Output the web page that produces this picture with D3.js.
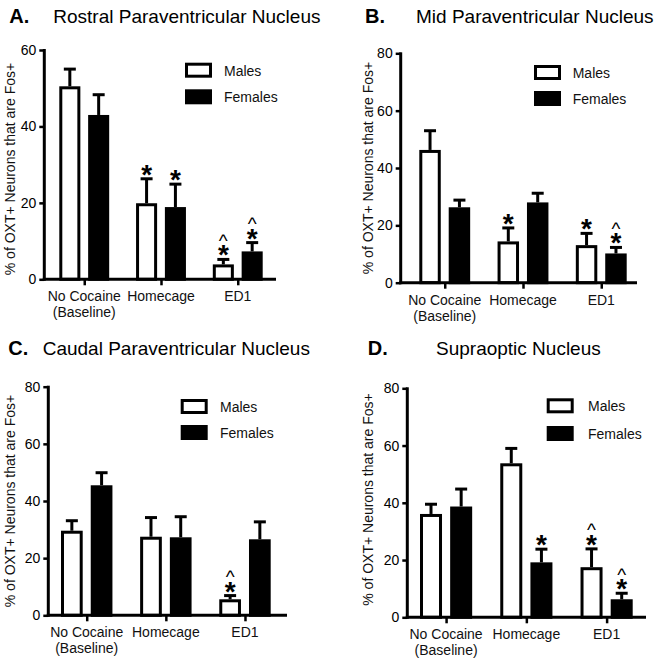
<!DOCTYPE html>
<html>
<head>
<meta charset="utf-8">
<script src="https://cdn.jsdelivr.net/npm/d3@7"></script>
<style>
  html, body { margin: 0; padding: 0; background: #fff; }
  svg { display: block; }
  text { font-family: "Liberation Sans", Arial, Helvetica, sans-serif; fill: #000; }
</style>
</head>
<body>
<script>
// ---------------- DATA ----------------
const categories = [["No Cocaine", "(Baseline)"], ["Homecage"], ["ED1"]];
const seriesNames = ["Males", "Females"];
const panelLetters = ["A.", "B.", "C.", "D."];
const panelTitles = [
  "Rostral Paraventricular Nucleus",
  "Mid Paraventricular Nucleus",
  "Caudal Paraventricular Nucleus",
  "Supraoptic Nucleus"
];
const yAxisLabel = "% of OXT+ Neurons that are Fos+";
const yMaxes = [60, 80, 80, 80];
const yTicksA = [0, 20, 40, 60];
const yTicksBCD = [0, 20, 40, 60, 80];

// Panel A – Rostral PVN
const malesMeanA = [50.5, 19.9, 3.9];
const malesSemA = [4.5, 6.4, 1.3];
const femalesMeanA = [43.0, 18.9, 7.3];
const femalesSemA = [5.3, 6.0, 2.3];
const malesMarksA = ["", "*", "^*"];
const femalesMarksA = ["", "*", "^*"];

// Panel B – Mid PVN
const malesMeanB = [46.3, 14.4, 13.1];
const malesSemB = [6.7, 4.7, 4.1];
const femalesMeanB = [26.3, 28.0, 10.2];
const femalesSemB = [2.5, 3.2, 2.1];
const malesMarksB = ["", "*", "*"];
const femalesMarksB = ["", "", "^*"];

// Panel C – Caudal PVN
const malesMeanC = [29.6, 27.5, 5.6];
const malesSemC = [3.5, 6.7, 1.3];
const femalesMeanC = [45.5, 27.3, 26.6];
const femalesSemC = [4.4, 7.2, 6.1];
const malesMarksC = ["", "", "^*"];
const femalesMarksC = ["", "", ""];

// Panel D – Supraoptic
const malesMeanD = [36.1, 53.8, 17.5];
const malesSemD = [3.4, 5.2, 6.4];
const femalesMeanD = [38.7, 19.2, 6.3];
const femalesSemD = [6.1, 4.6, 2.1];
const malesMarksD = ["", "", "^*"];
const femalesMarksD = ["", "*", "^*"];

// ---------------- LAYOUT ----------------
const W = 659, H = 663;
const FONT = '"Liberation Sans", Arial, Helvetica, sans-serif';

const panels = [
  { letter: panelLetters[0], title: panelTitles[0], yMax: yMaxes[0], ticks: yTicksA,
    mean: [malesMeanA, femalesMeanA], sem: [malesSemA, femalesSemA], marks: [malesMarksA, femalesMarksA],
    L: { ax: 44.3, yTop: 50, yBot: 279.3, xEnd: 276, bL: 59.3, bR: 262.7,
         letterX: 9.3, titleX: 53.3, titleY: 22.5,
         legX: 185, legY1: 62.7, legY2: 89.3, legTX: 224,
         ylabX: 14.5, ylabY: 169 } },
  { letter: panelLetters[1], title: panelTitles[1], yMax: yMaxes[1], ticks: yTicksBCD,
    mean: [malesMeanB, femalesMeanB], sem: [malesSemB, femalesSemB], marks: [malesMarksB, femalesMarksB],
    L: { ax: 400.7, yTop: 53.3, yBot: 282.7, xEnd: 637, bL: 419.3, bR: 626.7,
         letterX: 365, titleX: 416, titleY: 23.3,
         legX: 534, legY1: 65, legY2: 91, legTX: 572.7,
         ylabX: 372.5, ylabY: 168 } },
  { letter: panelLetters[2], title: panelTitles[2], yMax: yMaxes[2], ticks: yTicksBCD,
    mean: [malesMeanC, femalesMeanC], sem: [malesSemC, femalesSemC], marks: [malesMarksC, femalesMarksC],
    L: { ax: 48.3, yTop: 386.7, yBot: 615.3, xEnd: 287, bL: 61, bR: 270.7,
         letterX: 8.3, titleX: 42.7, titleY: 355,
         legX: 180.7, legY1: 399, legY2: 425, legTX: 220,
         ylabX: 14.5, ylabY: 501 } },
  { letter: panelLetters[3], title: panelTitles[3], yMax: yMaxes[3], ticks: yTicksBCD,
    mean: [malesMeanD, femalesMeanD], sem: [malesSemD, femalesSemD], marks: [malesMarksD, femalesMarksD],
    L: { ax: 407.3, yTop: 388.3, yBot: 617.3, xEnd: 646, bL: 420, bR: 632.7,
         letterX: 367.7, titleX: 436, titleY: 355,
         legX: 546.7, legY1: 398.3, legY2: 426, legTX: 588,
         ylabX: 372.5, ylabY: 499.5 } }
];

const svg = d3.select("body").append("svg")
  .attr("width", W).attr("height", H)
  .attr("viewBox", `0 0 ${W} ${H}`);

svg.append("rect").attr("width", W).attr("height", H).attr("fill", "#fff");

const SW = 3; // stroke width

panels.forEach(p => {
  const L = p.L;
  const g = svg.append("g");

  // scales
  const y = d3.scaleLinear().domain([0, p.yMax]).range([L.yBot, L.yTop]);
  const x0 = d3.scaleBand().domain(d3.range(categories.length)).range([L.bL, L.bR]).paddingInner(0.35);
  const x1 = d3.scaleBand().domain(d3.range(seriesNames.length)).range([0, x0.bandwidth()]).paddingInner(0.27);

  // title
  g.append("text").attr("x", L.letterX).attr("y", L.titleY)
    .style("font-size", "20px").style("font-weight", "bold").text(p.letter);
  g.append("text").attr("x", L.titleX).attr("y", L.titleY)
    .style("font-size", "19px").text(p.title);

  // y label
  g.append("text")
    .attr("transform", `translate(${L.ylabX},${L.ylabY}) rotate(-90)`)
    .attr("text-anchor", "middle")
    .style("font-size", "14px").style("fill", "#111")
    .text(yAxisLabel);

  // bars
  seriesNames.forEach((s, si) => {
    const means = p.mean[si], sems = p.sem[si], marks = p.marks[si];
    means.forEach((v, ci) => {
      const bx = x0(ci) + x1(si);
      const bw = x1.bandwidth();
      const cx = bx + bw / 2;
      const yv = y(v), ye = y(v + sems[ci]);
      // error bar (upper only)
      g.append("line").attr("x1", cx).attr("x2", cx).attr("y1", yv).attr("y2", ye)
        .attr("stroke", "#000").attr("stroke-width", SW);
      g.append("line").attr("x1", cx - 6).attr("x2", cx + 6).attr("y1", ye).attr("y2", ye)
        .attr("stroke", "#000").attr("stroke-width", SW);
      // bar
      g.append("rect")
        .attr("x", bx + SW / 2).attr("y", yv + SW / 2)
        .attr("width", bw - SW).attr("height", Math.max(0, y(0) - yv - SW / 2))
        .attr("fill", si === 0 ? "#fff" : "#000")
        .attr("stroke", "#000").attr("stroke-width", SW);
      // significance marks: one text element, caret above star
      const m = marks[ci];
      if (m.length) {
        const t = g.append("text").attr("text-anchor", "middle");
        if (m.includes("^")) {
          t.append("tspan").attr("x", cx).attr("y", ye - 12.5)
            .style("font-size", "19px").text("^");
        }
        if (m.includes("*")) {
          t.append("tspan").attr("x", cx).attr("y", ye + 5)
            .style("font-size", "28px").style("font-weight", "bold").text("*");
        }
      }
    });
  });

  // y axis
  const yAxis = d3.axisLeft(y).tickValues(p.ticks).tickSize(5).tickPadding(3).tickSizeOuter(0);
  const ya = g.append("g").attr("transform", `translate(${L.ax},0)`).call(yAxis);
  ya.select(".domain").remove();
  ya.selectAll(".tick line").attr("stroke", "#000").attr("stroke-width", 2.5);
  ya.selectAll(".tick text").style("font-family", FONT).style("font-size", "14px").attr("fill", "#111");
  g.append("line").attr("x1", L.ax).attr("x2", L.ax).attr("y1", y(p.yMax) - 1).attr("y2", y(0) + SW / 2)
    .attr("stroke", "#000").attr("stroke-width", SW);

  // x axis
  const xs = d3.scalePoint().domain(d3.range(categories.length))
    .range([x0(0) + x0.bandwidth() / 2, x0(categories.length - 1) + x0.bandwidth() / 2]);
  const xAxis = d3.axisBottom(xs).tickSize(6).tickFormat("");
  const xa = g.append("g").attr("transform", `translate(0,${L.yBot})`).call(xAxis);
  xa.select(".domain").remove();
  xa.selectAll(".tick line").attr("stroke", "#000").attr("stroke-width", 2.5);
  g.append("line").attr("x1", L.ax - SW / 2).attr("x2", L.xEnd).attr("y1", L.yBot).attr("y2", L.yBot)
    .attr("stroke", "#000").attr("stroke-width", SW);

  categories.forEach((lines, ci) => {
    lines.forEach((t, li) => {
      g.append("text").attr("x", xs(ci)).attr("y", L.yBot + 22 + li * 16)
        .attr("text-anchor", "middle").style("font-size", "14px").style("fill", "#111")
        .text(t);
    });
  });

  // legend
  const legYs = [L.legY1, L.legY2];
  seriesNames.forEach((s, si) => {
    g.append("rect").attr("x", L.legX + SW / 2).attr("y", legYs[si] + SW / 2)
      .attr("width", 27 - SW).attr("height", 15 - SW)
      .attr("fill", si === 0 ? "#fff" : "#000").attr("stroke", "#000").attr("stroke-width", SW);
    g.append("text").attr("x", L.legTX).attr("y", legYs[si] + 13)
      .style("font-size", "14px").style("fill", "#111").text(s);
  });
});
</script>
</body>
</html>
